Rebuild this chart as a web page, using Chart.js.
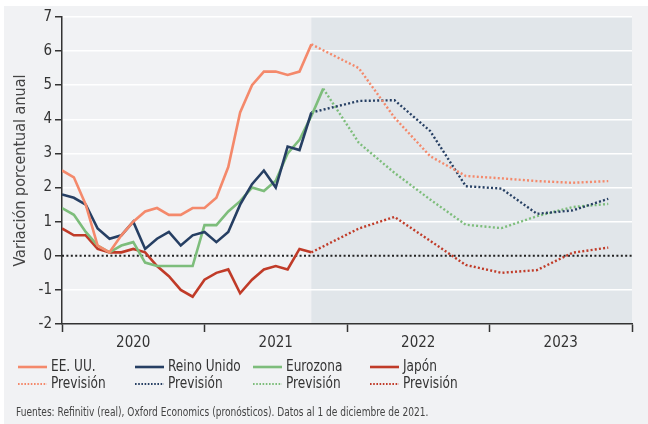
<!DOCTYPE html>
<html>
<head>
<meta charset="utf-8">
<script src="https://cdn.jsdelivr.net/npm/chart.js@4.4.1/dist/chart.umd.min.js"></script>
<style>
html,body{margin:0;padding:0;background:#fff;}
</style>
</head>
<body>
<canvas id="inflChart" width="648" height="424"></canvas>
<script>
// =========================
// DATOS (meses desde ene-2020)
// =========================

const years = ["2020","2021","2022","2023"];
const seriesNames = ["EE. UU.","Reino Unido","Eurozona","Japón"];
const forecastName = "Previsión";
const sourceNote = "Fuentes: Refinitiv (real), Oxford Economics (pronósticos). Datos al 1 de diciembre de 2021.";

const usActual = [2.5,2.3,1.5,0.3,0.1,0.6,1.0,1.3,1.4,1.2,1.2,1.4,1.4,1.7,2.6,4.2,5.0,5.4,5.4,5.3,5.4,6.2];
const ukActual = [1.8,1.7,1.5,0.8,0.5,0.6,1.0,0.2,0.5,0.7,0.3,0.6,0.7,0.4,0.7,1.5,2.1,2.5,2.0,3.2,3.1,4.2];
const ezActual = [1.4,1.2,0.7,0.3,0.1,0.3,0.4,-0.2,-0.3,-0.3,-0.3,-0.3,0.9,0.9,1.3,1.6,2.0,1.9,2.2,3.0,3.4,4.1,4.9];
const jpActual = [0.8,0.6,0.6,0.2,0.1,0.1,0.2,0.1,-0.3,-0.6,-1.0,-1.2,-0.7,-0.5,-0.4,-1.1,-0.7,-0.4,-0.3,-0.4,0.2,0.1];

// previsiones trimestrales (mes central de cada trimestre)
const forecastMonths = [25,28,31,34,37,40,43,46];
const usForecast = [5.5,4.05,2.92,2.34,2.27,2.19,2.14,2.19];
const ukForecast = [4.54,4.56,3.66,2.04,1.97,1.23,1.33,1.67];
const ezForecast = [3.31,2.43,1.65,0.91,0.81,1.16,1.43,1.52];
const jpForecast = [0.8,1.14,0.44,-0.27,-0.5,-0.42,0.09,0.24];

const colors = ["#f4896b","#263f63","#7dbd7b","#c03b28"];
const FONT = '"Liberation Sans Narrow","DejaVu Sans Condensed","Roboto Condensed",Roboto,sans-serif';

const actuals = [usActual,ukActual,ezActual,jpActual];
const forecasts = [usForecast,ukForecast,ezForecast,jpForecast];

function actualPoints(arr){
    return arr.map((v,i)=>({x:i,y:v}));
}

function forecastPoints(actual,fc){
    const last = actual.length-1;
    return [{x:last,y:actual[last]}]
        .concat(fc.map((v,i)=>({x:forecastMonths[i],y:v})));
}

const datasets = [];

actuals.forEach((arr,i)=>{
    datasets.push({
        label:seriesNames[i],
        data:actualPoints(arr),
        borderColor:colors[i],
        borderWidth:2.6,
        pointRadius:0,
        tension:0
    });
});

forecasts.forEach((fc,i)=>{
    datasets.push({
        label:forecastName,
        data:forecastPoints(actuals[i],fc),
        borderColor:colors[i],
        borderWidth:2.4,
        borderDash:[2,2.2],
        pointRadius:0,
        tension:0
    });
});

// =========================
// PLUGINS
// =========================

const backgroundPlugin = {
    id:"background",
    beforeDraw(chart){
        const {ctx,chartArea:a,scales:{x}} = chart;
        ctx.save();
        ctx.fillStyle="#fff";
        ctx.fillRect(0,0,chart.width,chart.height);
        ctx.fillStyle="#f1f2f4";
        ctx.fillRect(4,6,chart.width-4,chart.height-6);
        const x0 = x.getPixelForValue(usActual.length-1);
        ctx.fillStyle="#e1e6ea";
        ctx.fillRect(x0,a.top,a.right-x0,a.bottom-a.top);
        ctx.restore();
    }
};

const zeroLinePlugin = {
    id:"zeroLine",
    beforeDatasetsDraw(chart){
        const {ctx,chartArea:a,scales:{y}} = chart;
        const yy = y.getPixelForValue(0);
        ctx.save();
        ctx.strokeStyle="#222";
        ctx.lineWidth=2;
        ctx.setLineDash([2,2.4]);
        ctx.beginPath();
        ctx.moveTo(a.left,yy);
        ctx.lineTo(a.right,yy);
        ctx.stroke();
        ctx.restore();
    }
};

const legendPlugin = {
    id:"customLegend",
    afterDraw(chart){
        const ctx = chart.ctx;
        const cols = [18,135,253,370];
        const rows = [367,384];
        ctx.save();
        ctx.textBaseline="middle";
        ctx.fillStyle="#333";
        seriesNames.forEach((name,i)=>{
            rows.forEach((ry,r)=>{
                ctx.strokeStyle=colors[i];
                ctx.lineWidth = r===0 ? 2.6 : 2.2;
                ctx.setLineDash(r===0 ? [] : [1.6,1.6]);
                ctx.beginPath();
                ctx.moveTo(cols[i],ry);
                ctx.lineTo(cols[i]+29,ry);
                ctx.stroke();
                ctx.setLineDash([]);
                // texto algo estrecho, como en el original
                ctx.save();
                ctx.translate(cols[i]+33,ry);
                ctx.scale(0.9,1);
                ctx.font = "15px "+FONT;
                ctx.fillText(r===0 ? name : forecastName,0,0);
                ctx.restore();
            });
        });
        ctx.save();
        ctx.translate(16,413);
        ctx.scale(0.84,1);
        ctx.font = "12px "+FONT;
        ctx.fillStyle="#444";
        ctx.fillText(sourceNote,0,0);
        ctx.restore();
        ctx.restore();
    }
};

// =========================
// GRÁFICO
// =========================

new Chart(document.getElementById("inflChart"),{

    type:"line",

    data:{datasets:datasets},

    options:{

        responsive:false,
        animation:false,

        layout:{
            padding:{top:17,right:16,left:4,bottom:0}
        },

        plugins:{
            legend:{display:false},
            tooltip:{enabled:false}
        },

        scales:{

            x:{
                type:"linear",
                min:0,
                max:48,
                afterBuildTicks:(s)=>{
                    const t = [];
                    for(let v=0; v<=48; v+=6){ t.push({value:v}); }
                    s.ticks = t;
                },
                afterFit:(s)=>{ s.height = 100; },
                ticks:{
                    autoSkip:false,
                    maxRotation:0,
                    padding:2,
                    color:"#333",
                    font:{family:FONT,size:15},
                    callback:(v)=> v%12===6 ? years[(v-6)/12] : ""
                },
                grid:{
                    drawOnChartArea:false,
                    tickLength:8,
                    tickWidth:1.5,
                    tickColor:(c)=> c.tick && c.tick.value%12===0 ? "#333" : "rgba(0,0,0,0)"
                },
                border:{color:"#333",width:1.5}
            },

            y:{
                min:-2,
                max:7,
                afterFit:(s)=>{ s.width = 58; },
                ticks:{
                    stepSize:1,
                    padding:3,
                    color:"#333",
                    font:{family:FONT,size:15}
                },
                grid:{
                    color:(c)=> (c.tick && (c.tick.value===0 || c.tick.value===-2)) ? "rgba(0,0,0,0)" : "#fff",
                    lineWidth:1.5,
                    tickLength:7,
                    tickWidth:1.5,
                    tickColor:"#333"
                },
                border:{color:"#333",width:1.5},
                title:{
                    display:true,
                    text:"Variación porcentual anual",
                    color:"#444",
                    font:{family:FONT,size:16},
                    padding:{top:7,bottom:0}
                }
            }
        }
    },

    plugins:[backgroundPlugin,zeroLinePlugin,legendPlugin]
});
</script>
</body>
</html>
